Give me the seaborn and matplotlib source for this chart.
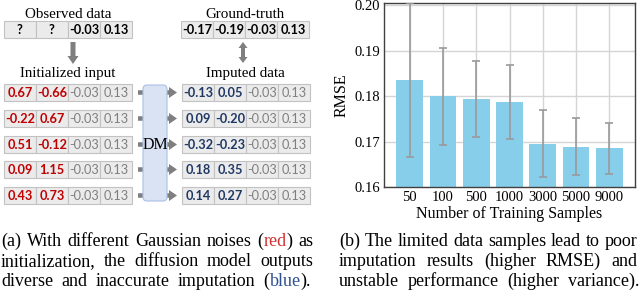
import matplotlib
matplotlib.use("Agg")
import matplotlib.pyplot as plt
import seaborn as sns
from matplotlib.patches import Rectangle, FancyArrow, FancyBboxPatch

# ---- data for the bar chart (b) ----
samples = ["50", "100", "500", "1000", "3000", "5000", "9000"]
rmse = [0.1835, 0.1800, 0.1794, 0.1787, 0.1696, 0.1689, 0.1686]
rmse_std = [0.0169, 0.0106, 0.0083, 0.0081, 0.0073, 0.0063, 0.0056]

# ---- data for the diagram (a) ----
observed = ["?", "?", "-0.03", "0.13"]
ground_truth = ["-0.17", "-0.19", "-0.03", "0.13"]
noise_init = [["0.67", "-0.66"], ["-0.22", "0.67"], ["0.51", "-0.12"],
              ["0.09", "1.15"], ["0.43", "0.73"]]
imputed = [["-0.13", "0.05"], ["0.09", "-0.20"], ["-0.32", "-0.23"],
           ["0.18", "0.35"], ["0.14", "0.27"]]

SERIF = "Liberation Serif"
NUMF = "Lato"
RED, NAVY, GRAY = "#c00000", "#1f3864", "#7f7f7f"

fig = plt.figure(figsize=(6.4, 2.95), dpi=100)
fig.patch.set_facecolor("white")

# full-figure axes in pixel units for the diagram and captions
ax0 = fig.add_axes([0, 0, 1, 1])
ax0.set_xlim(0, 640)
ax0.set_ylim(295, 0)
ax0.axis("off")

cell_w, cell_h = 32, 17


def draw_row(x0, y0, labels, colors, bolds):
    for i, (lab, col, b) in enumerate(zip(labels, colors, bolds)):
        ax0.add_patch(Rectangle((x0 + i * cell_w, y0), cell_w, cell_h,
                                fc="#ebebeb", ec="#c2c2c2", lw=0.8, zorder=2))
        ax0.text(x0 + i * cell_w + cell_w / 2, y0 + cell_h / 2 + 0.5, lab,
                 color=col, fontsize=9.2, family=NUMF,
                 fontweight="bold" if b else "normal",
                 ha="center", va="center", zorder=3)


# top rows
draw_row(4, 21, observed, ["black"] * 4, [True] * 4)
draw_row(181, 21, ground_truth, ["black"] * 4, [True] * 4)
for x, y, s in [(68, 14, "Observed data"), (245, 14, "Ground-truth"),
                (68, 74, "Initialized input"), (245, 74, "Imputed data")]:
    ax0.text(x, y, s, family=SERIF, fontsize=10.8, ha="center", va="center")

# arrows between the top rows and the titles
ax0.add_patch(FancyArrow(73, 42, 0, 22, width=5, head_width=11, head_length=8,
                         length_includes_head=True, color="#7f7f7f", lw=0))
ax0.add_patch(FancyArrow(243, 53, 0, -11, width=4, head_width=9, head_length=6,
                         length_includes_head=True, color="#7f7f7f", lw=0))
ax0.add_patch(FancyArrow(243, 52, 0, 11, width=4, head_width=9, head_length=6,
                         length_includes_head=True, color="#7f7f7f", lw=0))

row_tops = [84, 110, 136, 161, 187]
for top, init, imp in zip(row_tops, noise_init, imputed):
    draw_row(4, top, init + ["-0.03", "0.13"], [RED, RED, GRAY, GRAY],
             [True, True, False, False])
    draw_row(182, top, imp + ["-0.03", "0.13"], [NAVY, NAVY, GRAY, GRAY],
             [True, True, False, False])
    ax0.add_patch(FancyArrow(138, top + cell_h / 2, 39, 0, width=4.5, head_width=11,
                             head_length=8, length_includes_head=True,
                             color="#7f7f7f", lw=0, zorder=2))

ax0.add_patch(FancyBboxPatch((143, 85), 24, 116, boxstyle="round,pad=0,rounding_size=4",
                             fc="#dae3f3", ec="#a9c0e8", lw=0.8, zorder=4))
ax0.text(155, 145, "DM", family=SERIF, fontsize=11.5, ha="center", va="center", zorder=5)

# ---- justified captions ----
renderer = fig.canvas.get_renderer()
CAP_FS = 13


def text_width(s):
    t = ax0.text(0, 0, s, family=SERIF, fontsize=CAP_FS)
    w = t.get_window_extent(renderer).width
    t.remove()
    return w


def draw_line(words, x0, x1, y, justify=True):
    # words: list of lists of (text, color) segments
    widths = [[text_width(s) for s, _ in w] for w in words]
    total = sum(sum(ws) for ws in widths)
    space = text_width("a a") - text_width("aa")
    gap = (x1 - x0 - total) / (len(words) - 1) if justify else space
    x = x0
    for w, ws in zip(words, widths):
        for (s, c), sw in zip(w, ws):
            ax0.text(x, y, s, family=SERIF, fontsize=CAP_FS, color=c,
                     ha="left", va="baseline")
            x += sw
        x += gap


def plain(line):
    return [[(w, "black")] for w in line.split()]


cap_red = "#d03232"
cap_blue = "#2f4f8f"
line_a1 = plain("(a) With different Gaussian noises") + \
    [[("(", "black"), ("red", cap_red), (")", "black")], [("as", "black")]]
line_a3 = plain("diverse and inaccurate imputation") + \
    [[("(", "black"), ("blue", cap_blue), (").", "black")]]

draw_line(line_a1, 1, 313, 246)
draw_line(plain("initialization, the diffusion model outputs"), 1, 313, 266)
draw_line(line_a3, 1, 311, 286)
draw_line(plain("(b) The limited data samples lead to poor"), 339, 637, 246)
draw_line(plain("imputation results (higher RMSE) and"), 339, 637, 266)
draw_line(plain("unstable performance (higher variance)."), 339, 639, 286)

# ---- bar chart (b) ----
ax = fig.add_axes([384 / 640, 1 - 187.3 / 295, 251 / 640, 184.3 / 295])
sns.barplot(x=samples, y=rmse, color="#87ceeb", saturation=1, width=0.8,
            ax=ax, zorder=2)
ax.errorbar(range(len(samples)), rmse, yerr=rmse_std, fmt="none",
            ecolor="#9a9a9a", elinewidth=1.2, capsize=3, capthick=1.2, zorder=3)
ax.set_xlim(-0.77, len(samples) - 0.23)
ax.set_ylim(0.16, 0.2005)
ax.set_yticks([0.16, 0.17, 0.18, 0.19, 0.20])
ax.set_yticklabels(["0.16", "0.17", "0.18", "0.19", "0.20"])
ax.grid(True, color="#d5d5d5", lw=1, zorder=0)
ax.set_axisbelow(True)
for sp in ax.spines.values():
    sp.set_color("#404040")
    sp.set_linewidth(1)
ax.tick_params(length=0, pad=3, labelsize=10.5)
for lab in ax.get_xticklabels() + ax.get_yticklabels():
    lab.set_family(SERIF)
ax.set_xlabel("Number of Training Samples", family=SERIF, fontsize=11.5, labelpad=1)
ax.set_ylabel("RMSE", family=SERIF, fontsize=11.5, labelpad=3)

fig.savefig("out.png", dpi=100)
